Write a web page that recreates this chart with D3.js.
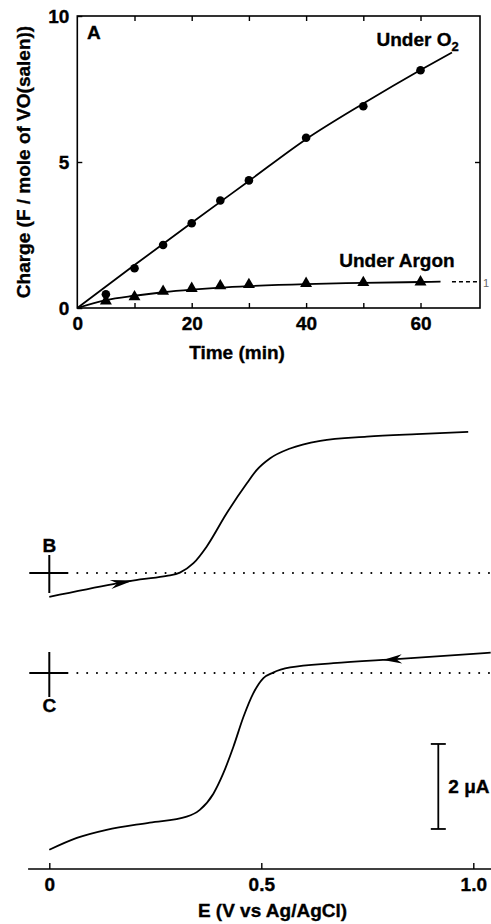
<!DOCTYPE html>
<html>
<head>
<meta charset="utf-8">
<script src="https://cdn.jsdelivr.net/npm/d3@7"></script>
<style>
  body { margin: 0; background: #fff; }
  svg { display: block; font-family: "Liberation Sans", Arial, Helvetica, sans-serif; font-weight: bold; }
  svg text { stroke: #000; stroke-width: 0.35px; }
</style>
</head>
<body>
<svg id="chart"></svg>
<script>
// ---- panel A : charge vs time ----
const timeO2   = [5, 10, 15, 20, 25, 30, 40, 50, 60];
const chargeO2 = [0.47, 1.36, 2.16, 2.90, 3.68, 4.37, 5.83, 6.91, 8.14];
const timeAr   = [5, 10, 15, 20, 25, 30, 40, 50, 60];
const chargeAr = [0.24, 0.38, 0.57, 0.67, 0.76, 0.80, 0.84, 0.87, 0.89];

const fitO2Time   = [0, 10, 20, 30, 40, 50, 60, 65.5];
const fitO2Charge = [0, 1.47, 2.92, 4.35, 5.78, 7.0, 8.15, 8.75];
const fitArTime   = [0, 5, 10, 15, 20, 25, 30, 40, 50, 60, 63.5];
const fitArCharge = [0, 0.27, 0.42, 0.54, 0.63, 0.70, 0.75, 0.82, 0.86, 0.89, 0.9];
const dashArTime   = [65.5, 70.4];
const dashArCharge = [0.9, 0.9];

const timeTicks   = [0, 20, 40, 60];
const chargeTicks = [0, 5, 10];

// ---- panels B / C : voltammograms (E in V, i in uA relative to baseline) ----
const potentialB = [0, 0.151, 0.214, 0.277, 0.308, 0.340, 0.371, 0.418, 0.466, 0.489, 0.521, 0.568, 0.639, 0.749, 0.867, 0.988];
const currentB   = [-0.56, -0.26, -0.15, -0.07, 0.01, 0.23, 0.62, 1.40, 2.11, 2.42, 2.70, 2.93, 3.11, 3.21, 3.27, 3.32];
const potentialC = [0, 0.065, 0.135, 0.237, 0.324, 0.355, 0.387, 0.410, 0.434, 0.458, 0.481, 0.505, 0.528, 0.568, 0.670, 0.827, 1.041];
const currentC   = [-4.16, -3.88, -3.69, -3.52, -3.38, -3.22, -2.84, -2.37, -1.74, -1.03, -0.48, -0.12, 0.01, 0.13, 0.23, 0.33, 0.48];

const potentialTicks  = [0, 0.5, 1.0];
const potentialLabels = ['0', '0.5', '1.0'];

const W = 491, H = 924;
const svg = d3.select('#chart').attr('width', W).attr('height', H);
const FS = 19;

// ================= panel A =================
const xT = d3.scaleLinear().domain([0, 70.4]).range([77.3, 480]);
const yQ = d3.scaleLinear().domain([0, 10]).range([308, 16]);

const gA = svg.append('g');

gA.append('rect')
    .attr('x', xT(0)).attr('y', yQ(10))
    .attr('width', xT(70.4) - xT(0)).attr('height', yQ(0) - yQ(10))
    .attr('fill', 'none').attr('stroke', '#000').attr('stroke-width', 1.6);

const minorT = d3.range(10, 70, 10);
const axisStyle = g => {
    g.select('.domain').remove();
    g.selectAll('line').attr('stroke', '#000').attr('stroke-width', 1.4);
    g.selectAll('text').attr('fill', '#000').style('font-size', FS + 'px').style('font-weight', 'bold')
        .style('font-family', '"Liberation Sans", Arial, sans-serif');
};

gA.append('g')
    .attr('transform', `translate(0, ${yQ(0)})`)
    .call(d3.axisBottom(xT).tickValues(minorT).tickSize(-5).tickFormat(''))
    .call(axisStyle);
gA.append('g')
    .attr('transform', `translate(0, ${yQ(0)})`)
    .call(d3.axisBottom(xT).tickValues(timeTicks).tickSize(0).tickPadding(9).tickFormat(d3.format('d')))
    .call(axisStyle);
gA.append('g')
    .attr('transform', `translate(0, ${yQ(10)})`)
    .call(d3.axisTop(xT).tickValues(minorT).tickSize(-5).tickFormat(''))
    .call(axisStyle);
gA.append('g')
    .attr('transform', `translate(${xT(0)}, 0)`)
    .call(d3.axisLeft(yQ).tickValues(chargeTicks).tickSize(-5).tickPadding(8).tickFormat(d3.format('d')))
    .call(axisStyle);
gA.append('g')
    .attr('transform', `translate(${xT(70.4)}, 0)`)
    .call(d3.axisRight(yQ).tickValues([5]).tickSize(-5).tickFormat(''))
    .call(axisStyle);

const lineA = d3.line()
    .x(d => xT(d[0]))
    .y(d => yQ(d[1]))
    .curve(d3.curveMonotoneX);

gA.append('path')
    .attr('d', lineA(d3.zip(fitO2Time, fitO2Charge)))
    .attr('fill', 'none').attr('stroke', '#000').attr('stroke-width', 1.8);
gA.append('path')
    .attr('d', lineA(d3.zip(fitArTime, fitArCharge)))
    .attr('fill', 'none').attr('stroke', '#000').attr('stroke-width', 1.8);
gA.append('path')
    .attr('d', lineA(d3.zip(dashArTime, dashArCharge)))
    .attr('fill', 'none').attr('stroke', '#000').attr('stroke-width', 1.6)
    .attr('stroke-dasharray', '4,3');

gA.selectAll('circle.o2')
    .data(d3.zip(timeO2, chargeO2))
    .join('circle')
    .attr('class', 'o2')
    .attr('cx', d => xT(d[0]))
    .attr('cy', d => yQ(d[1]))
    .attr('r', 4.3)
    .attr('fill', '#000');

gA.selectAll('path.ar')
    .data(d3.zip(timeAr, chargeAr))
    .join('path')
    .attr('class', 'ar')
    .attr('transform', d => `translate(${xT(d[0])}, ${yQ(d[1])})`)
    .attr('d', d3.symbol(d3.symbolTriangle, 62))
    .attr('fill', '#000');

gA.append('text')
    .attr('x', 87).attr('y', yQ(9.2))
    .style('font-size', FS + 'px')
    .text('A');

const o2Label = gA.append('text')
    .attr('x', xT(52.3)).attr('y', yQ(8.98))
    .style('font-size', FS + 'px')
    .text('Under O');
o2Label.append('tspan').attr('dy', 5).style('font-size', '13px').text('2');

gA.append('text')
    .attr('x', xT(45.8)).attr('y', yQ(1.39))
    .style('font-size', FS + 'px')
    .text('Under Argon');

// small label peeking at the right edge of the frame
gA.append('text')
    .attr('x', 483).attr('y', yQ(0.9) + 5)
    .style('font-size', '11px').style('font-weight', 'normal')
    .style('stroke', 'none')
    .attr('fill', '#666')
    .text('1');

gA.append('text')
    .attr('transform', `translate(23, ${(yQ(0) + yQ(10)) / 2}) rotate(-90)`)
    .attr('text-anchor', 'middle')
    .attr('dy', '0.35em')
    .style('font-size', FS + 'px')
    .text('Charge (F / mole of VO(salen))');

gA.append('text')
    .attr('x', 237).attr('y', 352)
    .attr('text-anchor', 'middle')
    .attr('dy', '0.35em')
    .style('font-size', FS + 'px')
    .text('Time (min)');

// ================= panels B / C =================
const xE = d3.scaleLinear().domain([0, 1]).range([49.3, 473.3]);
const yB = d3.scaleLinear().domain([0, 2]).range([573, 488]);
const yC = d3.scaleLinear().domain([0, 2]).range([673, 588]);
const axisY = 869;

const gCV = svg.append('g');

// bottom potential axis
gCV.append('line')
    .attr('x1', xE(-0.05)).attr('x2', W)
    .attr('y1', axisY).attr('y2', axisY)
    .attr('stroke', '#000').attr('stroke-width', 1.6);
gCV.append('g')
    .attr('transform', `translate(0, ${axisY})`)
    .call(d3.axisBottom(xE).tickValues(potentialTicks).tickSize(-6).tickPadding(9)
        .tickFormat((d, i) => potentialLabels[i]))
    .call(axisStyle);

gCV.append('text')
    .attr('x', 272.5).attr('y', 910)
    .attr('text-anchor', 'middle')
    .attr('dy', '0.35em')
    .style('font-size', FS + 'px')
    .text('E (V vs Ag/AgCl)');

const traces = [
    { name: 'B', e: potentialB, i: currentB, y: yB, crossUp: 18, crossDown: 20, labelDy: -28, arrowE: 0.198, dir: 1, len: 23 },
    { name: 'C', e: potentialC, i: currentC, y: yC, crossUp: 21, crossDown: 24, labelDy: 32, arrowE: 0.787, dir: -1, len: 19 }
];

traces.forEach(t => {
    const x0 = xE(0), y0 = t.y(0);

    // zero-current baseline (dotted)
    gCV.append('line')
        .attr('x1', x0 + 28).attr('x2', W)
        .attr('y1', y0).attr('y2', y0)
        .attr('stroke', '#000').attr('stroke-width', 2)
        .attr('stroke-linecap', 'round')
        .attr('stroke-dasharray', '0.1,9.7');

    // origin cross
    gCV.append('line')
        .attr('x1', x0 - 20).attr('x2', x0 + 19)
        .attr('y1', y0).attr('y2', y0)
        .attr('stroke', '#000').attr('stroke-width', 2);
    gCV.append('line')
        .attr('x1', x0).attr('x2', x0)
        .attr('y1', y0 - t.crossUp).attr('y2', y0 + t.crossDown)
        .attr('stroke', '#000').attr('stroke-width', 2);

    gCV.append('text')
        .attr('x', x0).attr('y', y0 + t.labelDy)
        .attr('text-anchor', 'middle')
        .attr('dy', '0.35em')
        .style('font-size', FS + 'px')
        .text(t.name);

    const pts = d3.zip(t.e, t.i);
    const line = d3.line()
        .x(d => xE(d[0]))
        .y(d => t.y(d[1]))
        .curve(d3.curveMonotoneX);
    gCV.append('path')
        .attr('d', line(pts))
        .attr('fill', 'none').attr('stroke', '#000').attr('stroke-width', 1.8);

    // arrowhead on the trace, pointing in the scan direction
    const k = d3.bisectLeft(t.e, t.arrowE);
    const a = pts[k - 1], b = pts[k];
    const f = (t.arrowE - a[0]) / (b[0] - a[0]);
    const tx = xE(t.arrowE), ty = t.y(a[1] + f * (b[1] - a[1]));
    let ang = Math.atan2(t.y(b[1]) - t.y(a[1]), xE(b[0]) - xE(a[0])) * 180 / Math.PI;
    if (t.dir < 0) ang += 180;
    const L = t.len, w = 4.6;
    gCV.append('path')
        .attr('transform', `translate(${tx}, ${ty}) rotate(${ang})`)
        .attr('d', `M0,0 L${-L},${-w} L${-0.7 * L},0 L${-L},${w} Z`)
        .attr('fill', '#000');
});

// 2 uA scale bar
const barX = 438.3;
const barTop = yC(-1.67), barBot = yC(-3.67);
gCV.append('line')
    .attr('x1', barX).attr('x2', barX).attr('y1', barTop).attr('y2', barBot)
    .attr('stroke', '#000').attr('stroke-width', 1.8);
[barTop, barBot].forEach(yy => {
    gCV.append('line')
        .attr('x1', barX - 7.5).attr('x2', barX + 7.5).attr('y1', yy).attr('y2', yy)
        .attr('stroke', '#000').attr('stroke-width', 1.8);
});
gCV.append('text')
    .attr('x', barX + 10).attr('y', (barTop + barBot) / 2)
    .attr('dy', '0.35em')
    .style('font-size', FS + 'px')
    .text('2 \u03bcA');
</script>
</body>
</html>
